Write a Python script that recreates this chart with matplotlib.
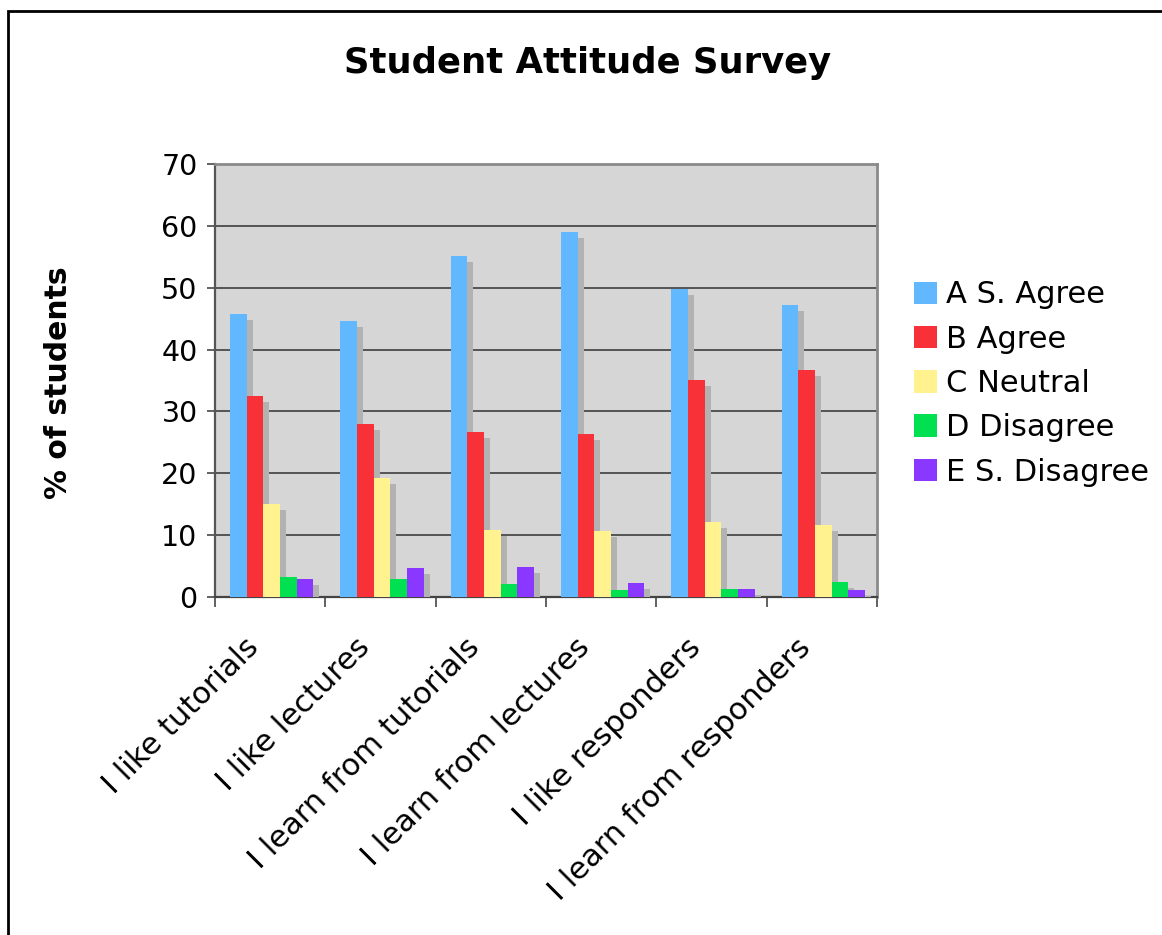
# Student attitude survey - grouped bar chart with drop shadows

import numpy as np
import matplotlib.pyplot as plt
from matplotlib.patches import Rectangle

categories = ["I like tutorials", "I like lectures", "I learn from tutorials",
              "I learn from lectures", "I like responders", "I learn from responders"]
series = ["A S. Agree", "B Agree", "C Neutral", "D Disagree", "E S. Disagree"]
strongly_agree = [45.7, 44.6, 55.1, 59.0, 49.8, 47.2]
agree = [32.5, 27.9, 26.6, 26.4, 35.0, 36.7]
neutral = [15.0, 19.2, 10.8, 10.7, 12.1, 11.7]
disagree = [3.3, 2.85, 2.15, 1.1, 1.3, 2.5]
strongly_disagree = [2.9, 4.7, 4.8, 2.3, 1.3, 1.1]
colors = ["#62b8ff", "#f83038", "#fff28f", "#00e050", "#8a38ff"]

values = [strongly_agree, agree, neutral, disagree, strongly_disagree]

fig = plt.figure(figsize=(11.62, 9.35), dpi=100)
ax = fig.add_axes([0.185, 0.3615, 0.5697, 0.4631])
ax.set_facecolor("#d6d6d6")

x = np.arange(len(categories))
width = 0.151
start = 0.136
shadow_dx = 0.054
shadow_dy = 0.97

for k, (vals, col, name) in enumerate(zip(values, colors, series)):
    left = x + start + k * width
    v = np.array(vals)
    ax.bar(left + shadow_dx, np.clip(v - shadow_dy, 0, None), width, align="edge",
           color="#b2b2b2", zorder=2 + 2 * k)
    ax.bar(left, v, width, align="edge", color=col, label=name, zorder=3 + 2 * k)

ax.set_xlim(0, len(categories))
ax.set_ylim(0, 70)
ax.set_yticks(range(0, 71, 10))
ax.yaxis.grid(True, color="#4a4a4a", linewidth=1.3, zorder=1)
ax.set_axisbelow(True)

# category ticks at the boundaries, labels (slightly left of centre) below
ax.set_xticks(np.arange(len(categories) + 1))
ax.set_xticklabels([])
ax.set_xticks(x + 0.36, minor=True)
ax.set_xticklabels(categories, minor=True, rotation=45, ha="right", va="center",
                   rotation_mode="anchor", fontsize=22)
ax.tick_params(axis="x", which="minor", length=0, pad=33)
ax.tick_params(axis="x", which="major", length=7, color="#555555", width=1.3)
ax.tick_params(axis="y", length=6, color="#555555", width=1.3, labelsize=20.5, pad=6.5)

for side in ["top", "right"]:
    ax.spines[side].set_color("#8a8a8a")
    ax.spines[side].set_linewidth(2)
ax.spines["left"].set_color("#555555")
ax.spines["left"].set_linewidth(1.6)
ax.spines["bottom"].set_color("#444444")
ax.spines["bottom"].set_linewidth(1.6)

ax.set_ylabel("% of students", fontsize=21.5, fontweight="bold")
ax.yaxis.set_label_coords(-0.2145, 0.495)
fig.text(0.506, 0.933, "Student Attitude Survey", ha="center", va="center",
         fontsize=25.5, fontweight="bold")

ax.legend(loc="center left", bbox_to_anchor=(1.038, 0.493), frameon=False,
          fontsize=22, handlelength=0.75, handleheight=0.75, handletextpad=0.3,
          labelspacing=0.5, borderaxespad=0)

fig.add_artist(Rectangle((0.007, -0.1), 1.1, 1.088, transform=fig.transFigure,
                         fill=False, edgecolor="black", linewidth=2))

fig.savefig("out.png", dpi=100)
